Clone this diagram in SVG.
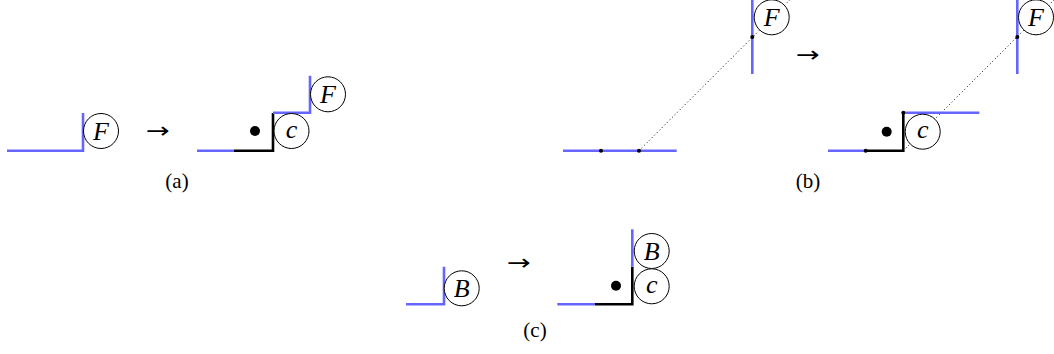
<svg xmlns="http://www.w3.org/2000/svg" width="1054" height="354" viewBox="0 0 1054 354">
<style>
.b{stroke:#6666ff;stroke-width:2.6;fill:none;stroke-linecap:butt}
.k{stroke:#000;stroke-width:2.6;fill:none;stroke-linejoin:miter}
.d{stroke:#000;stroke-width:1;stroke-dasharray:1 2.6;fill:none}
.c{fill:#fff;stroke:#000;stroke-width:1}
.t{font-family:'Liberation Serif',serif;font-style:italic;font-size:26px;text-anchor:middle}
.l{font-family:'Liberation Serif',serif;font-size:21px;text-anchor:middle}
.a{font-family:'DejaVu Sans',sans-serif;font-size:22px;text-anchor:middle}
</style>
<rect width="1054" height="354" fill="#fff"/>
<g id="connectors">
<line class="d" x1="639" y1="150.7" x2="789.7" y2="0"/>
<line class="d" x1="903.3" y1="150.7" x2="1054" y2="0"/>
</g>
<g id="panel-a">
<path class="b" d="M7 150.7H83V113"/>
<path class="b" d="M197 150.7H234"/>
<path class="k" d="M234 150.7H273V113"/>
<path class="b" d="M273 112.7H310V75.7"/>
<circle cx="255" cy="131" r="5"/>
<text class="a" transform="translate(158 138) scale(1.3 1)">→</text>
<text class="l" x="177" y="188">(a)</text>
</g>
<g id="node-a-F1"><circle class="c" cx="101" cy="131" r="17.5"/><text class="t" x="101" y="140">F</text></g>
<g id="node-a-c"><circle class="c" cx="291.5" cy="131" r="17.5"/><text class="t" x="291.5" y="137.5">c</text></g>
<g id="node-a-F2"><circle class="c" cx="328" cy="94.3" r="17.5"/><text class="t" x="328" y="103.3">F</text></g>
<g id="panel-b">
<path class="b" d="M563 150.7H676.7"/>
<path class="b" d="M752.3 0V74"/>
<circle cx="601" cy="150.7" r="2"/>
<circle cx="639" cy="150.7" r="2"/>
<text class="a" transform="translate(808 62) scale(1.3 1)">→</text>
<path class="b" d="M828 150.7H865.7"/>
<path class="k" d="M865.7 150.7H903.3V112.7"/>
<path class="b" d="M903.3 112.7H979.3"/>
<path class="b" d="M1017.3 0V74"/>
<circle cx="865.7" cy="150.7" r="2"/>
<circle cx="903.3" cy="112.7" r="2"/>
<circle cx="886.7" cy="131.7" r="5"/>
<text class="l" x="808" y="188">(b)</text>
</g>
<g id="node-b-F1"><circle class="c" cx="771.7" cy="17.3" r="17.5"/><text class="t" x="771.7" y="26.3">F</text></g>
<circle cx="752.3" cy="37" r="2"/>
<g id="node-b-c"><circle class="c" cx="922.7" cy="131.7" r="17.5"/><text class="t" x="922.7" y="138.2">c</text></g>
<g id="node-b-F2"><circle class="c" cx="1036" cy="17.3" r="17.5"/><text class="t" x="1036" y="26.3">F</text></g>
<circle cx="1017.3" cy="37" r="2"/>
<g id="panel-c">
<path class="b" d="M406 304.3H444V266.7"/>
<path class="b" d="M557.3 304.3H595"/>
<path class="k" d="M595 304.3H632.3V266.7"/>
<path class="b" d="M632.3 266.7V229.3"/>
<circle cx="616" cy="285.7" r="5"/>
<text class="a" transform="translate(519 270) scale(1.3 1)">→</text>
<text class="l" x="535" y="337">(c)</text>
</g>
<g id="node-c-B1"><circle class="c" cx="461.7" cy="288.3" r="17.5"/><text class="t" x="461.7" y="297.3">B</text></g>
<g id="node-c-B2"><circle class="c" cx="651.7" cy="251" r="17.5"/><text class="t" x="651.7" y="260">B</text></g>
<g id="node-c-c"><circle class="c" cx="651.7" cy="286.3" r="17.5"/><text class="t" x="651.7" y="292.8">c</text></g>
</svg>
